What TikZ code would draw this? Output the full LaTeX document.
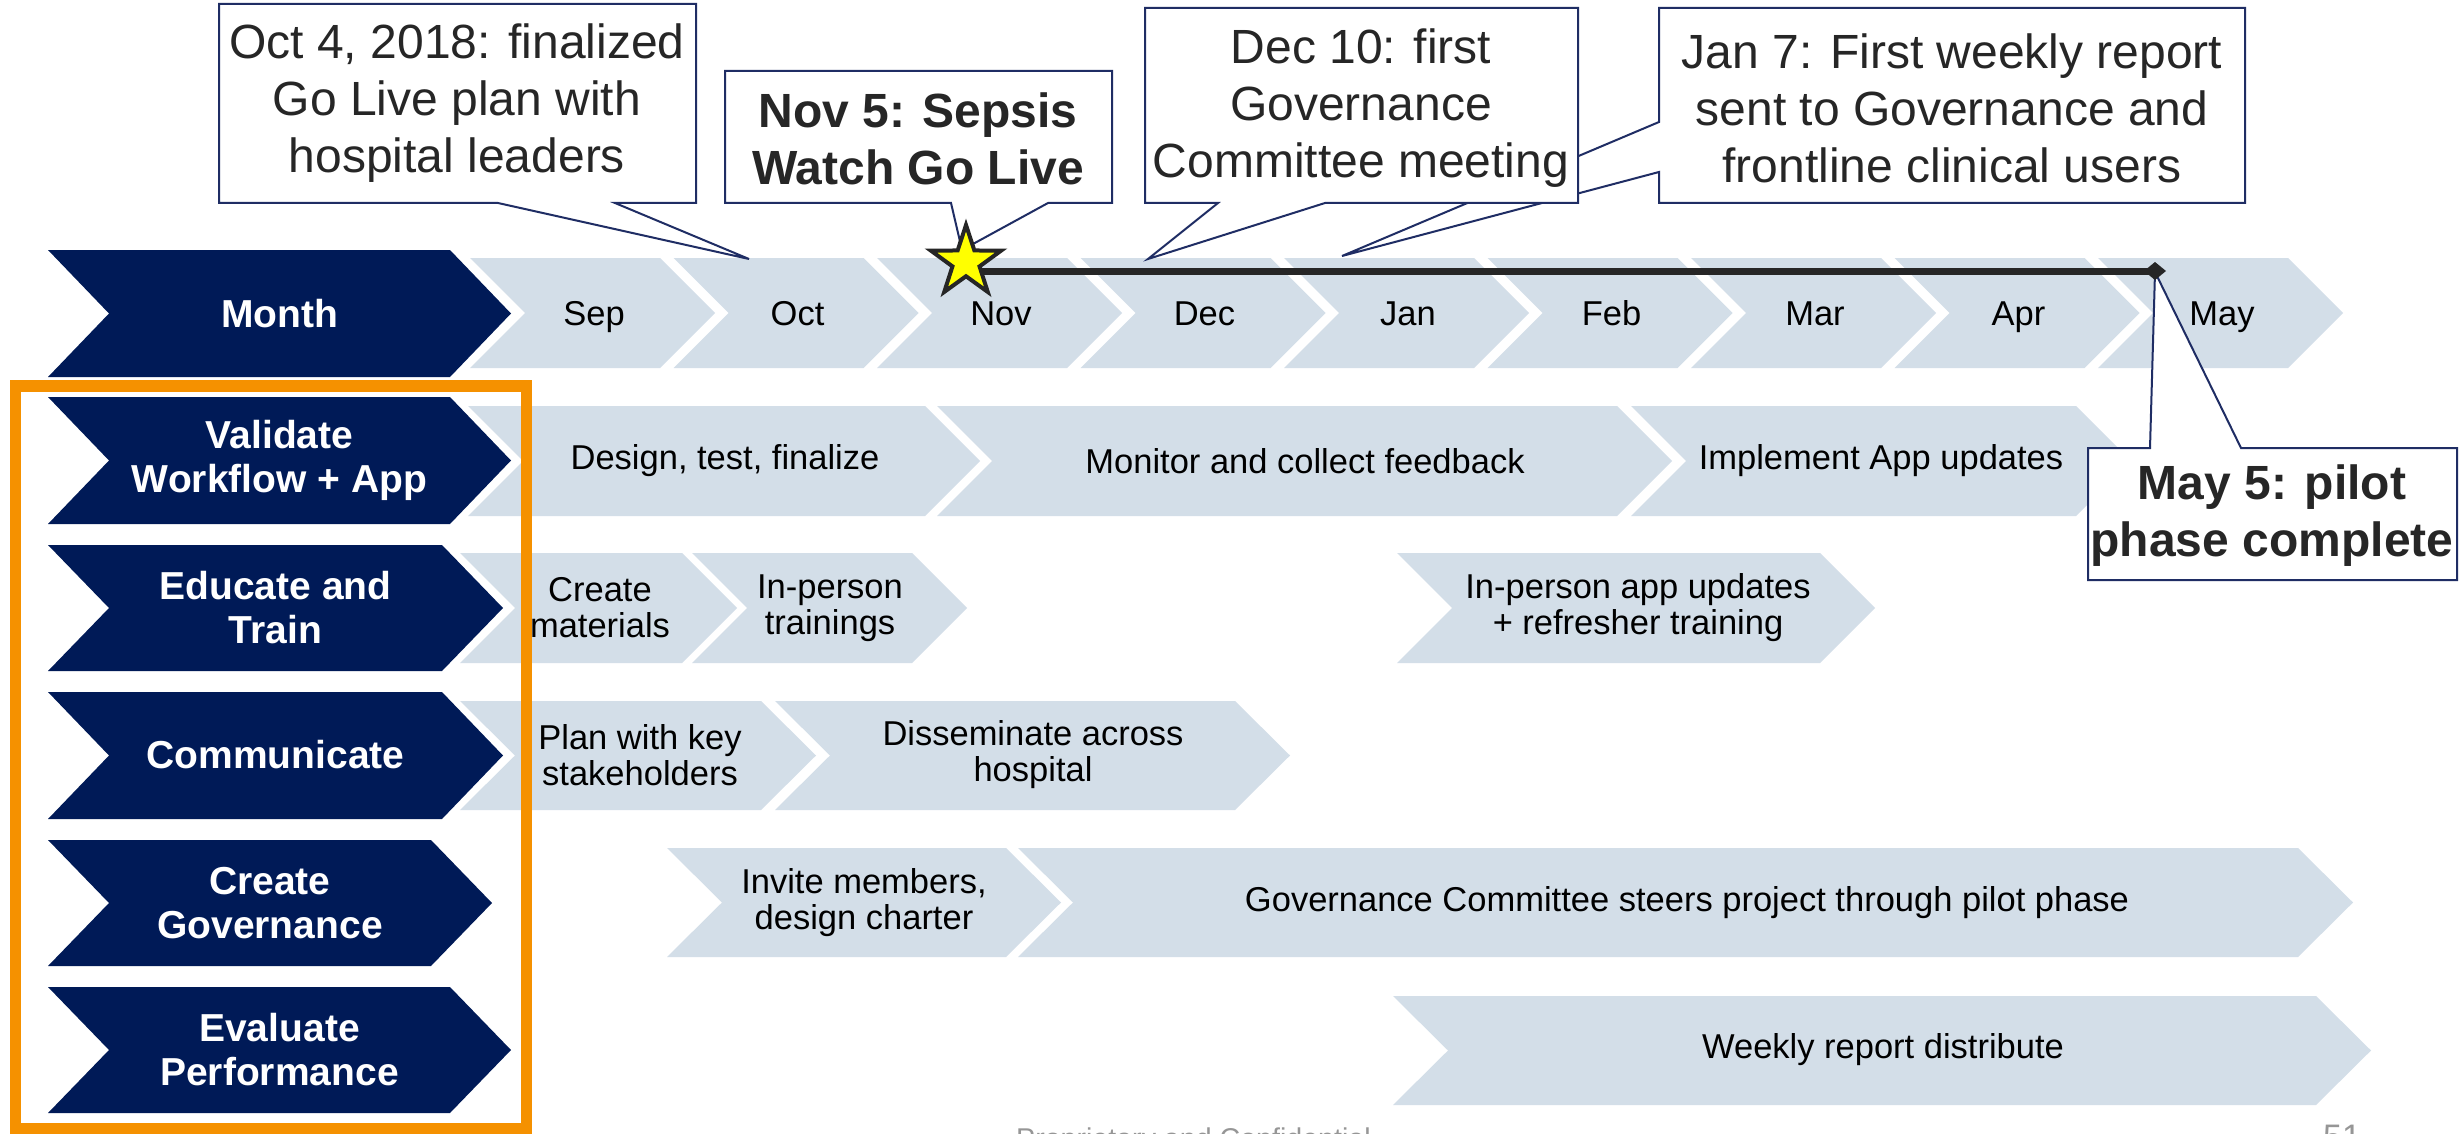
\documentclass[tikz,border=0pt]{standalone}
\usepackage{fontspec}
\setmainfont{Liberation Sans}
\usetikzlibrary{arrows.meta,shapes.geometric}
\definecolor{navy}{RGB}{0,26,87}
\definecolor{lightc}{RGB}{211,222,232}
\definecolor{cbord}{RGB}{31,45,100}
\definecolor{orng}{RGB}{245,145,0}
\definecolor{lineblk}{RGB}{38,38,38}
\definecolor{foot}{RGB}{150,150,150}
\definecolor{staryel}{RGB}{255,255,0}
\newcommand\chevpath[5]{(#1,#3) -- (#2,#3) -- ({#2+#5},{(#3+#4)/2}) -- (#2,#4) -- (#1,#4) -- ({#1+#5},{(#3+#4)/2}) -- cycle}
\begin{document}
\begin{tikzpicture}[x=1pt,y=-1pt,
  lightchev/.style={fill=lightc},
  darkchev/.style={fill=navy},
  darklbl/.style={text=white, font=\fontsize{39}{44}\selectfont\bfseries, align=center, inner sep=0pt},
  lightlbl/.style={text=black, font=\fontsize{34.5}{36}\selectfont, align=center, inner sep=0pt},
  callout/.style={fill=white, draw=cbord, line width=2pt, line join=miter},
  calltext/.style={font=\fontsize{48}{57}\selectfont, align=center, inner sep=0pt, text=lineblk},
  callbold/.style={calltext, font=\fontsize{48}{57}\selectfont\bfseries},
  footlbl/.style={text=foot, inner sep=0pt, anchor=base}
  ]
\useasboundingbox (0,0) rectangle (2463,1134);
\clip (0,0) rectangle (2463,1134);
\fill[white] (0,0) rectangle (2463,1134);

% ---- month chevrons
\foreach \k/\m in {0/Sep,1/Oct,2/Nov,3/Dec,4/Jan,5/Feb,6/Mar,7/Apr,8/May}{
  \pgfmathsetmacro\xl{470+203.5*\k}
  \pgfmathsetmacro\xr{\xl+190}
  \fill[lightchev] \chevpath{\xl}{\xr}{258}{368}{55};
  \node[lightlbl, anchor=base] (m\k) at ({\xl+124},325) {\m};
}

% ---- activity chevrons
\fill[lightchev] \chevpath{468}{925}{406}{516}{55};
\fill[lightchev] \chevpath{937}{1617}{406}{516}{55};
\fill[lightchev] \chevpath{1631}{2076}{406}{516}{55};
\fill[lightchev] \chevpath{460}{682}{553}{663}{55};
\fill[lightchev] \chevpath{692}{912}{553}{663}{55};
\fill[lightchev] \chevpath{1397}{1820}{553}{663}{55};
\fill[lightchev] \chevpath{460}{761}{701}{810}{55};
\fill[lightchev] \chevpath{775}{1235}{701}{810}{55};
\fill[lightchev] \chevpath{667}{1006}{848}{957}{55};
\fill[lightchev] \chevpath{1018}{2298}{848}{957}{55};
\fill[lightchev] \chevpath{1393}{2316}{996}{1105}{55};

\node[lightlbl] (a1) at (725,461) {Design, test, finalize};
\node[lightlbl] (a2) at (1305,461) {Monitor and collect feedback};
\node[lightlbl] (a3) at (1881,461) {Implement App updates};
\node[lightlbl] (b1) at (600,608) {Create\\materials};
\node[lightlbl] (b2) at (830,608) {In-person\\trainings};
\node[lightlbl] (b3) at (1638,608) {In-person app updates\\+ refresher training};
\node[lightlbl] (c1) at (640,755) {Plan with key\\stakeholders};
\node[lightlbl] (c2) at (1033,755) {Disseminate across\\hospital};
\node[lightlbl] (d1) at (864,903) {Invite members,\\design charter};
\node[lightlbl] (d2) at (1687,903) {Governance Committee steers project through pilot phase};
\node[lightlbl] (e1) at (1883,1050) {Weekly report distribute};

% ---- dark row headers
\fill[darkchev] \chevpath{48}{450}{250}{377}{61};
\fill[darkchev] \chevpath{48}{450}{397}{524}{61};
\fill[darkchev] \chevpath{48}{442}{545}{671}{61};
\fill[darkchev] \chevpath{48}{442}{692}{819}{61};
\fill[darkchev] \chevpath{48}{431}{840}{966}{61};
\fill[darkchev] \chevpath{48}{450}{987}{1113}{61};
\node[darklbl, anchor=base] (hmonth) at (279.5,327) {Month};
\node[darklbl] (hval) at (279.5,460) {Validate\\Workflow + App};
\node[darklbl] (hedu) at (275.5,608) {Educate and\\Train};
\node[darklbl] (hcom) at (275.5,755) {Communicate};
\node[darklbl] (hgov) at (270,903) {Create\\Governance};
\node[darklbl] (heval) at (279.5,1050) {Evaluate\\Performance};

% ---- callouts
\coordinate (octtip) at (749,259);
\coordinate (novtip) at (962,250);
\coordinate (dectip) at (1148,259);
\coordinate (jantip) at (1342,256);
\coordinate (maytip) at (2155,272);
\coordinate (mayend) at (2166,271);
\coordinate (linestart) at (966,271);

\draw[callout] (219,4) -- (696,4) -- (696,203) -- (615,203) -- (octtip) -- (498,203) -- (219,203) -- cycle;
\node[calltext] (octtxt) at (457,103) {Oct 4, 2018: finalized\\Go Live plan with\\hospital leaders};

\draw[callout] (725,71) -- (1112,71) -- (1112,203) -- (1048,203) -- (novtip) -- (951,203) -- (725,203) -- cycle;
\node[callbold] (novtxt) at (918,139) {Nov 5: Sepsis\\Watch Go Live};

\draw[callout] (1659,8) -- (2245,8) -- (2245,203) -- (1659,203) -- (1659,172) -- (jantip) -- (1659,122) -- cycle;
\node[calltext] (jantxt) at (1952,108) {Jan 7: First weekly report\\sent to Governance and\\frontline clinical users};

\draw[callout] (1145,8) -- (1578,8) -- (1578,203) -- (1325,203) -- (dectip) -- (1218,203) -- (1145,203) -- cycle;
\node[calltext] (dectxt) at (1361,108) {Dec 10: first\\Governance\\Committee meeting};

\draw[callout] (2088,448) -- (2150,448) -- (maytip) -- (2241,448) -- (2457,448) -- (2457,580) -- (2088,580) -- cycle;
\node[callbold] (maytxt) at (2272,516) {May 5: pilot\\phase complete};

% ---- go-live line and star
\draw[line width=7pt, draw=lineblk, -{Diamond[length=22pt,width=18pt]}] (linestart) -- (mayend);
\node[star, star points=5, star point ratio=2.6, minimum size=74pt, inner sep=0pt, draw=lineblk, fill=staryel, line width=4pt] (star) at (966,262) {};

% ---- orange frame
\draw[orng, line width=11.5pt] (15.5,386) rectangle (526.5,1129);

% ---- footer (cut by page edge)
\node[footlbl, font=\fontsize{28.6}{30}\selectfont, anchor=base west] (foot1) at (1016,1148.5) {Proprietary and Confidential};
\node[footlbl, font=\fontsize{34}{36}\selectfont] (pg) at (2342,1148.5) {51};
\end{tikzpicture}
\end{document}
